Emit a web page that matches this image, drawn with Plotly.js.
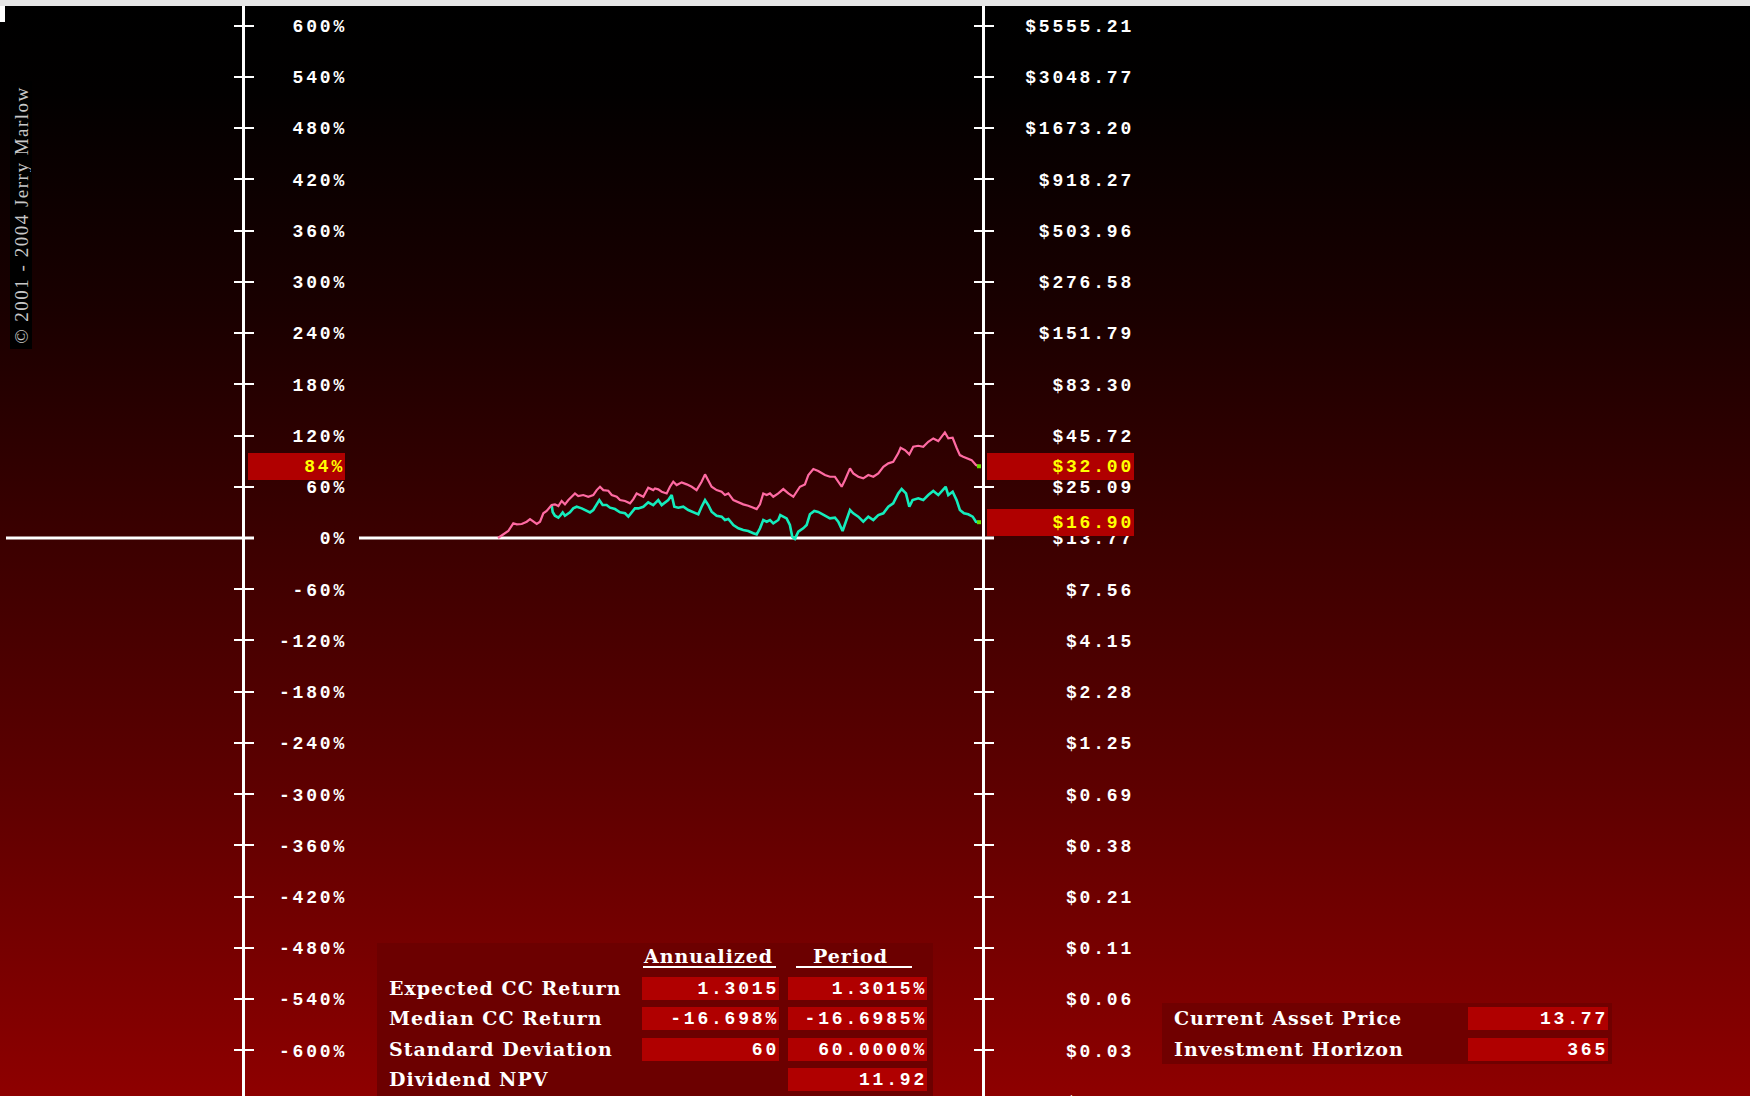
<!DOCTYPE html>
<html><head><meta charset="utf-8">
<script src="https://cdn.plot.ly/plotly-3.0.1.min.js"></script>
<style>
html,body{margin:0;padding:0;width:1750px;height:1096px;overflow:hidden;background:#e6e6e6;}
#bg{position:absolute;left:0;top:6px;width:1750px;height:1090px;
 background:linear-gradient(to bottom,#000000 0%,#020000 8%,#1a0000 28%,#3a0000 48%,#5e0000 72%,#8e0000 100%);}
#notch{position:absolute;left:0;top:6px;width:5px;height:16px;background:#fff;}
#chart{position:absolute;left:0;top:6px;width:1750px;height:1120px;}
text[style*="Liberation Mono"]{letter-spacing:2.8px;}
text[style*="DejaVu Serif"]{letter-spacing:1px;}
text[style*="Liberation Serif"]{letter-spacing:1.5px;}
</style></head>
<body>
<div id="bg"></div><div id="notch"></div>
<div id="chart"></div>
<script>
// ---------------- data ----------------
const pinkDays = [0,1.5,5.3,7.8,11.6,14.2,18.0,21.8,24.3,26.8,29.4,31.9,34.4,36.9,40.7,43.2,45.8,48.3,50.8,53.4,55.9,58.4,60.9,64.7,68.5,72.3,74.9,77.4,79.9,83.7,86.3,90.1,92.6,96.4,100.2,102.7,105.2,107.7,110.3,114.0,117.8,119.1,121.6,124.2,128.0,130.5,133.0,135.6,139.4,143.2,147.0,150.7,154.5,157.1,159.6,162.1,165.9,169.7,172.2,174.8,178.6,182.4,186.1,189.9,193.7,196.3,198.8,201.3,203.9,206.4,208.9,212.7,216.5,220.3,224.1,226.6,229.1,232.9,235.5,239.3,243.0,248.1,251.9,255.7,258.2,260.8,263.3,267.1,269.6,273.4,277.2,281.0,284.8,288.6,292.4,296.2,299.9,303.7,305.5,308.8,312.1,315.1,318.9,322.7,326.5,330.3,334.1,336.6,339.1,341.7,345.0,348.0,350.5,353.0,356.8,359.4,362.7,365];
const pinkPct = [0,1.5,5.5,8.2,17.2,16.0,16.4,19.1,22.2,19.1,16.4,19.1,28.9,31.6,38.6,39.4,37.4,43.3,39.4,44.4,48.3,52.2,49.1,50.3,48.3,50.3,56.1,60.0,56.1,55.3,50.3,48.3,44.4,43.3,40.6,45.6,52.2,50.3,48.3,58.9,56.1,58,57,54.2,52.2,60.0,65.9,62.0,65.1,62.8,60.0,56.1,65.9,74.5,67.9,60.0,56.1,54.2,50.3,52.2,44.4,41.7,39.4,37.8,35.5,33.9,39.4,52.2,50.3,52.2,48.3,52.2,57.3,52.2,48.3,54.2,60.0,62.8,73.7,80.7,78.5,73.7,71.7,71.7,65.9,60.0,67.9,81.5,75.7,71.7,69.8,73.7,71.7,75.7,83.4,87.4,89.3,99.1,105.7,103.0,97.9,106.8,108.0,106.8,112.7,116.6,113.5,118.5,123.6,116.6,117.4,105.7,97.1,95.1,93.2,91.2,85.5,84];
const cyanDays = [40.7,41.5,43.2,45.8,47.6,49.1,50.8,54.6,57.1,59.7,63.5,67.3,69.8,72.3,74.9,76.9,79.4,82.4,85.0,88.8,92.6,96.4,98.9,101.4,103.9,106.5,110.3,114.0,117.8,119.1,121.6,124.2,126.7,129.2,131.8,133.8,136.8,140.6,144.4,148.2,152.0,154.5,157.1,159.6,162.1,165.9,169.7,172.2,174.8,178.6,182.4,186.1,189.9,193.7,196.3,198.8,201.3,203.9,206.4,208.9,212.7,214.2,219.0,221.5,223.3,225.3,227.9,231.6,234.2,236.7,240.0,243.0,248.1,251.9,255.7,258.2,261.5,264.0,267.1,269.6,273.4,277.2,281.0,284.8,288.6,292.4,296.2,299.9,303.7,306.3,309.6,312.1,314.6,318.9,322.7,326.5,330.3,334.1,336.6,339.7,341.7,345.0,348.0,350.5,353.6,356.8,360.2,362.7,365];
const cyanPct = [38.6,30.5,26.1,23.8,26.9,30.0,26.1,30.0,34.7,36.6,34.7,31.6,30.0,32.8,39.4,44.4,38.6,38.6,35.5,33.9,30.0,28.9,25.0,30.0,34.7,34.7,36.6,41.7,38.6,40.6,44.4,38.6,41.7,44.4,50.3,36.6,35.5,36.6,32.8,30.0,27.7,36.6,44.4,38.6,30.8,26.1,25.0,21.1,22.2,15.2,11.3,9.4,8.2,5.5,4.3,11.3,21.1,19.1,21.1,17.2,21.1,26.9,23.0,15.2,1.5,-1,7.4,11.3,15.2,27.7,31.6,30.5,26.0,23.0,23.8,19.1,8.2,19.1,32.8,28.9,25.0,19.1,25.0,21.1,26.9,28.9,36.6,40.6,52.2,57.3,52.2,36.6,44.4,46.4,44.4,50.3,55.0,50.3,54.2,60.0,50.3,54.2,44.4,32.8,28.9,27.7,25.0,19.1,18.5];

const pctTicks = [600,540,480,420,360,300,240,180,120,60,0,-60,-120,-180,-240,-300,-360,-420,-480,-540,-600,-660];
const pctLabels = ["600%","540%","480%","420%","360%","300%","240%","180%","120%","60%","0%","-60%","-120%","-180%","-240%","-300%","-360%","-420%","-480%","-540%","-600%","-660%"];
const priceLabels = ["$5555.21","$3048.77","$1673.20","$918.27","$503.96","$276.58","$151.79","$83.30","$45.72","$25.09","$13.77","$7.56","$4.15","$2.28","$1.25","$0.69","$0.38","$0.21","$0.11","$0.06","$0.03","$0.02"];

const endLabelLeft = "84%";
const endLabelsRight = ["$32.00","$16.90"];

const tableHeaders = ["Annualized","Period"];
const tableRows = ["Expected CC Return","Median CC Return","Standard Deviation","Dividend NPV"];
const annualized = ["1.3015","-16.698%","60",""];
const period = ["1.3015%","-16.6985%","60.0000%","11.92"];

const infoLabels = ["Current Asset Price","Investment Horizon"];
const infoValues = ["13.77","365"];

const copyright = "\u00A9 2001 - 2004 Jerry Marlow";

// ---------------- geometry ----------------
const W = 1750, H = 1120, TOP = 6;
const px = x => x / W;
const py = y => 1 - (y - TOP) / H;
const DAY_PX = 1.3178, DAY0_X = 498;
const PCT_PX = 0.854, ZERO_Y = 538;
const xRange = [-DAY0_X / DAY_PX, (W - DAY0_X) / DAY_PX];
const yRange = [(ZERO_Y - TOP - H) / PCT_PX, (ZERO_Y - TOP) / PCT_PX];

const monoB = (c, s) => ({family: 'Liberation Mono', size: s || 18, color: c || '#ffffff', weight: 'bold'});
const serifB = {family: 'DejaVu Serif', size: 19, color: '#ffffff', weight: 'bold'};

const baseY = {range: yRange, showgrid: false, zeroline: false, fixedrange: true,
  tickmode: 'array', tickvals: pctTicks, anchor: 'free', showline: false};

const lastP = pinkPct[pinkPct.length - 1], lastC = cyanPct[cyanPct.length - 1];
const lastPD = pinkDays[pinkDays.length - 1], lastCD = cyanDays[cyanDays.length - 1];

const traces = [
  {x: cyanDays, y: cyanPct, type: 'scatter', mode: 'lines', line: {color: '#14ecbc', width: 2.6}, hoverinfo: 'skip'},
  {x: pinkDays, y: pinkPct, type: 'scatter', mode: 'lines', line: {color: '#ff6aa2', width: 2.2}, hoverinfo: 'skip'},
  {x: [lastPD, lastCD], y: [lastP, lastC], type: 'scatter', mode: 'markers',
   marker: {color: '#66dd00', size: 4, symbol: 'square'}, hoverinfo: 'skip'}
];
// invisible companions so that each overlaid axis (ticks / labels) is drawn
['y2', 'y3', 'y4', 'y5', 'y6'].forEach(ax => traces.push({
  x: [pinkDays[0]], y: [pinkPct[0]], yaxis: ax, type: 'scatter', mode: 'markers',
  marker: {opacity: 0, size: 1}, hoverinfo: 'skip'}));

const annotations = [];
const shapes = [];

// zero baseline (two segments, gap for the label column)
shapes.push({type: 'line', layer: 'below', xref: 'paper', yref: 'y', x0: px(6), x1: px(254), y0: 0, y1: 0, line: {color: '#ffffff', width: 3}});
shapes.push({type: 'line', layer: 'below', xref: 'paper', yref: 'y', x0: px(359), x1: px(994), y0: 0, y1: 0, line: {color: '#ffffff', width: 3}});

// end value highlight boxes
annotations.push({xref: 'paper', yref: 'y', x: px(345), y: lastP, xanchor: 'right', yanchor: 'middle',
  width: 97, height: 27, bgcolor: '#b00000', borderpad: 0, borderwidth: 0, align: 'right',
  showarrow: false, text: endLabelLeft, font: monoB('#ffff00')});
[lastP, lastC].forEach((v, i) => {
  annotations.push({xref: 'paper', yref: 'y', x: px(1134), y: v, xanchor: 'right', yanchor: 'middle',
    width: 147, height: 27, bgcolor: '#b00000', borderpad: 0, borderwidth: 0, align: 'right',
    showarrow: false, text: endLabelsRight[i], font: monoB('#ffff00')});
});

// copyright (rotated)
annotations.push({xref: 'paper', yref: 'paper', x: px(10), y: py(81), xanchor: 'left', yanchor: 'top', textangle: -90,
  width: 266, height: 20, borderpad: 1, borderwidth: 0, bgcolor: '#000000',
  showarrow: false, text: copyright, font: {family: 'Liberation Serif', size: 19, color: '#c8c8c8'}});

// statistics table
shapes.push({type: 'rect', layer: 'below', xref: 'paper', yref: 'paper', x0: px(377), x1: px(933), y0: 0, y1: py(943),
  line: {width: 0}, fillcolor: '#6c0000'});
const headX = [708, 850];
const ulX = [[643, 776], [796, 912]];
tableHeaders.forEach((h, i) => {
  annotations.push({xref: 'paper', yref: 'paper', x: px(headX[i]), y: py(956), xanchor: 'center', yanchor: 'middle',
    showarrow: false, text: h, font: serifB});
  shapes.push({type: 'line', xref: 'paper', yref: 'paper', x0: px(ulX[i][0]), x1: px(ulX[i][1]), y0: py(967), y1: py(967),
    line: {color: '#ffffff', width: 2}});
});
const rowY = [988, 1018, 1049, 1079];
tableRows.forEach((r, i) => {
  annotations.push({xref: 'paper', yref: 'paper', x: px(387), y: py(rowY[i]), xanchor: 'left', yanchor: 'middle',
    showarrow: false, text: r, font: serifB});
  if (annualized[i] !== '') {
    annotations.push({xref: 'paper', yref: 'paper', x: px(779), y: py(rowY[i]), xanchor: 'right', yanchor: 'middle',
      width: 137, height: 23, bgcolor: '#b00000', borderpad: 0, borderwidth: 0, align: 'right',
      showarrow: false, text: annualized[i], font: monoB()});
  }
  annotations.push({xref: 'paper', yref: 'paper', x: px(927), y: py(rowY[i]), xanchor: 'right', yanchor: 'middle',
    width: 139, height: 23, bgcolor: '#b00000', borderpad: 0, borderwidth: 0, align: 'right',
    showarrow: false, text: period[i], font: monoB()});
});

// asset info panel
shapes.push({type: 'rect', layer: 'below', xref: 'paper', yref: 'paper', x0: px(1162), x1: px(1612), y0: py(1064), y1: py(1003),
  line: {width: 0}, fillcolor: '#700000'});
const infoY = [1018, 1049];
infoLabels.forEach((l, i) => {
  annotations.push({xref: 'paper', yref: 'paper', x: px(1172), y: py(infoY[i]), xanchor: 'left', yanchor: 'middle',
    showarrow: false, text: l, font: serifB});
  annotations.push({xref: 'paper', yref: 'paper', x: px(1608), y: py(infoY[i]), xanchor: 'right', yanchor: 'middle',
    width: 140, height: 23, bgcolor: '#b00000', borderpad: 0, borderwidth: 0, align: 'right',
    showarrow: false, text: infoValues[i], font: monoB()});
});

const tickStyle = {tickcolor: '#ffffff', tickwidth: 2, showticklabels: false};
const layout = {
  width: W, height: H,
  margin: {l: 0, r: 0, t: 0, b: 0, pad: 0},
  paper_bgcolor: 'rgba(0,0,0,0)', plot_bgcolor: 'rgba(0,0,0,0)',
  showlegend: false,
  xaxis: {range: xRange, visible: false, fixedrange: true, domain: [0, 1]},
  // left percent axis: line + crossing ticks, labels on separate axis
  yaxis:  Object.assign({}, baseY, tickStyle, {position: px(243), side: 'left', showline: true, linecolor: '#ffffff', linewidth: 2.5, ticks: 'outside', ticklen: 8}),
  yaxis2: Object.assign({}, baseY, tickStyle, {overlaying: 'y', position: px(243), side: 'right', ticks: 'outside', ticklen: 10}),
  yaxis3: Object.assign({}, baseY, {overlaying: 'y', position: px(347), side: 'left', ticks: '', ticktext: pctLabels, tickfont: monoB()}),
  // right price axis
  yaxis4: Object.assign({}, baseY, tickStyle, {overlaying: 'y', position: px(983), side: 'left', showline: true, linecolor: '#ffffff', linewidth: 2.5, ticks: 'outside', ticklen: 8}),
  yaxis5: Object.assign({}, baseY, tickStyle, {overlaying: 'y', position: px(983), side: 'right', ticks: 'outside', ticklen: 10}),
  yaxis6: Object.assign({}, baseY, {overlaying: 'y', position: px(1134), side: 'left', ticks: '', ticktext: priceLabels, tickfont: monoB()}),
  shapes: shapes,
  annotations: annotations
};

Plotly.newPlot('chart', traces, layout, {staticPlot: true, displayModeBar: false});
</script>
</body></html>
